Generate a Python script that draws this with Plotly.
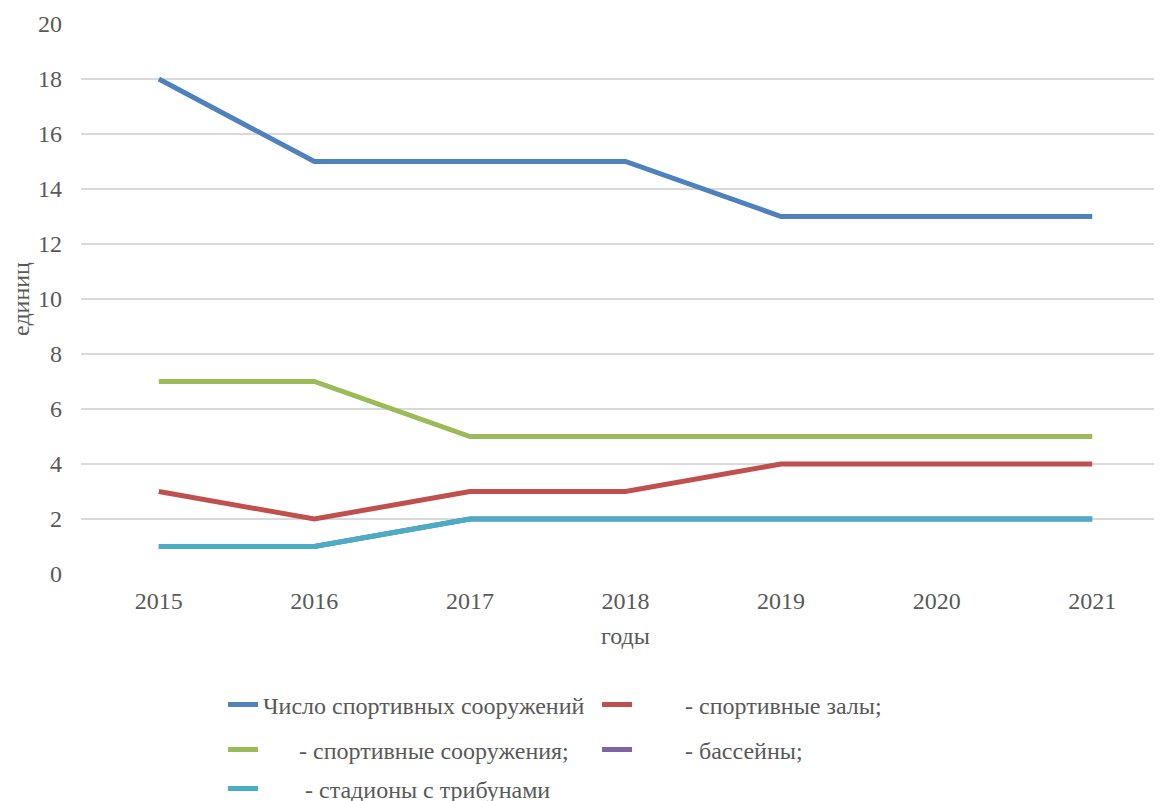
import plotly.graph_objects as go

years = ["2015", "2016", "2017", "2018", "2019", "2020", "2021"]
total = [18, 15, 15, 15, 13, 13, 13]
halls = [3, 2, 3, 3, 4, 4, 4]
facilities = [7, 7, 5, 5, 5, 5, 5]
pools = [1, 1, 2, 2, 2, 2, 2]
stadiums = [1, 1, 2, 2, 2, 2, 2]

NB = "\u00a0"
names = [
    "Число спортивных сооружений",
    NB * 8 + "- спортивные залы;",
    NB * 6 + "- спортивные сооружения;",
    NB * 8 + "- бассейны;",
    NB * 7 + "- стадионы с трибунами",
]
colors = ["#4F81BD", "#C0504D", "#9BBB59", "#8064A2", "#4BACC6"]
series = [total, halls, facilities, pools, stadiums]
legends = ["legend", "legend", "legend2", "legend2", "legend3"]

FONT = "Liberation Serif"
TXT = "#595959"

fig = go.Figure()
for name, vals, col, lg in zip(names, series, colors, legends):
    fig.add_trace(go.Scatter(
        x=years, y=vals, name=name, mode="lines",
        line=dict(color=col, width=5),
        legend=lg,
    ))

OFF = 8
leg_common = dict(orientation="h", x=(223 - OFF) / 1162, xref="container", xanchor="left",
                  yref="container", yanchor="middle",
                  entrywidth=329, entrywidthmode="pixels",
                  font=dict(family=FONT, size=24, color=TXT),
                  bgcolor="rgba(0,0,0,0)", traceorder="normal")

fig.update_layout(
    width=1162, height=801,
    margin=dict(l=81 - OFF, r=0, t=24 - OFF, b=801 - (574 - OFF), autoexpand=False),
    plot_bgcolor="white", paper_bgcolor="white",
    font=dict(family=FONT, size=24, color=TXT),
    xaxis=dict(type="category", range=[-0.5, 6.5], showgrid=False,
               showline=False, zeroline=False, ticks="", automargin=False,
               ticklabelstandoff=10,
               title=dict(text="годы", font=dict(family=FONT, size=24, color=TXT), standoff=14),
               tickfont=dict(family=FONT, size=24, color=TXT)),
    yaxis=dict(range=[0, 20], dtick=2, tick0=0, showgrid=True,
               gridcolor="#D9D9D9", gridwidth=1.5, zeroline=False,
               showline=False, ticks="", ticklabelstandoff=18, automargin=True,
               title=dict(text="единиц", font=dict(family=FONT, size=24, color=TXT), standoff=16),
               tickfont=dict(family=FONT, size=24, color=TXT)),
    legend=dict(y=(801 - (705 - OFF)) / 801, **leg_common),
    legend2=dict(y=(801 - (750 - OFF)) / 801, **leg_common),
    legend3=dict(y=(801 - (789 - OFF)) / 801, **leg_common),
    showlegend=True,
)

fig.write_html("out.html")
